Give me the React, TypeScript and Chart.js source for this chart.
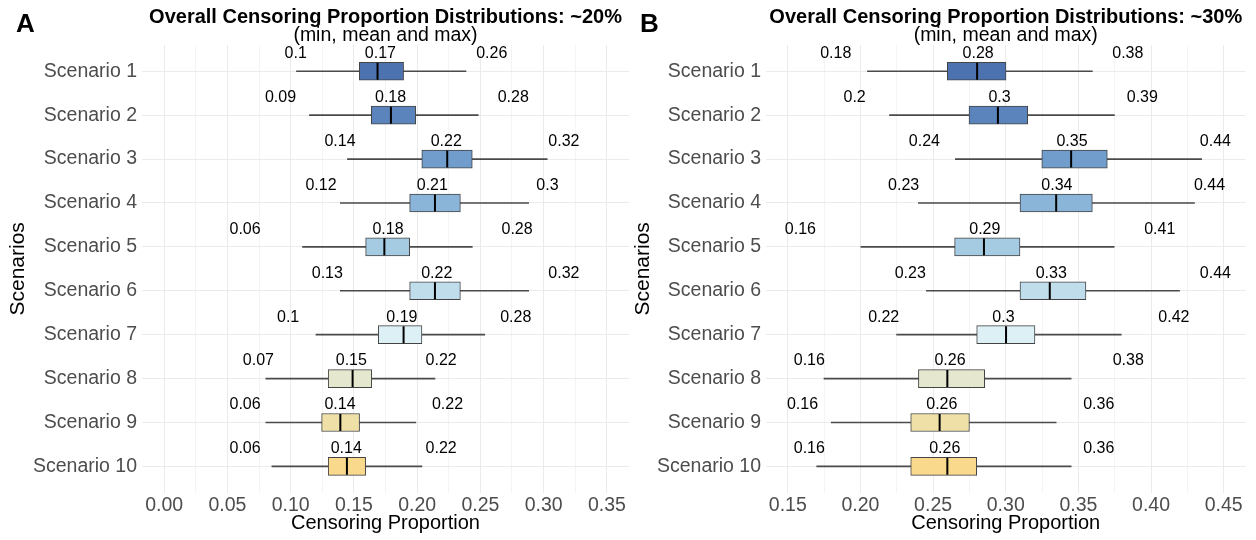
import React, { useEffect, useRef } from 'react';
import { Chart, registerables } from 'chart.js';

Chart.register(...registerables);

const FONT = '"Liberation Sans", Arial, Helvetica, sans-serif';

const scenarios = [
  'Scenario 1', 'Scenario 2', 'Scenario 3', 'Scenario 4', 'Scenario 5',
  'Scenario 6', 'Scenario 7', 'Scenario 8', 'Scenario 9', 'Scenario 10',
];

const boxColors = [
  '#4C72B0', '#5B84BD', '#709DCB', '#8AB5D9', '#A5CBE2',
  '#C0DDEC', '#DDF0F6', '#E5E7CF', '#EFE0A8', '#F9D98B',
];

// ---------- Panel A (~20%) ----------
const aWhiskerLow = [0.1046, 0.1149, 0.1449, 0.1393, 0.1094, 0.1393, 0.12, 0.0804, 0.0804, 0.0852];
const aQ1 = [0.1543, 0.1638, 0.2037, 0.1941, 0.1593, 0.1941, 0.1693, 0.1297, 0.1245, 0.1297];
const aMedian = [0.1687, 0.1793, 0.2238, 0.2141, 0.1741, 0.2141, 0.1893, 0.149, 0.1393, 0.1445];
const aQ3 = [0.1893, 0.1989, 0.2436, 0.2342, 0.1941, 0.2342, 0.2038, 0.1641, 0.1545, 0.1593];
const aWhiskerHigh = [0.2386, 0.2483, 0.3028, 0.2882, 0.2436, 0.2882, 0.2534, 0.2141, 0.199, 0.2038];
const aMin = [0.104, 0.092, 0.139, 0.124, 0.064, 0.129, 0.098, 0.0745, 0.064, 0.064];
const aMean = [0.171, 0.179, 0.223, 0.212, 0.177, 0.2155, 0.188, 0.148, 0.139, 0.144];
const aMax = [0.259, 0.276, 0.316, 0.303, 0.279, 0.316, 0.278, 0.219, 0.224, 0.219];
const aMajorTicks = [0, 0.05, 0.1, 0.15, 0.2, 0.25, 0.3, 0.35];
const aMinorTicks = [0.025, 0.075, 0.125, 0.175, 0.225, 0.275, 0.325];

// ---------- Panel B (~30%) ----------
const bWhiskerLow = [0.2048, 0.22, 0.2653, 0.2399, 0.2003, 0.2454, 0.2249, 0.1749, 0.1799, 0.1699];
const bQ1 = [0.2598, 0.2747, 0.3248, 0.3098, 0.2648, 0.3098, 0.28, 0.2399, 0.2346, 0.2346];
const bMedian = [0.2803, 0.2946, 0.345, 0.3347, 0.285, 0.3303, 0.3002, 0.2598, 0.2545, 0.2598];
const bQ3 = [0.3002, 0.3151, 0.3699, 0.3596, 0.3098, 0.3552, 0.3201, 0.2855, 0.275, 0.28];
const bWhiskerHigh = [0.3596, 0.3748, 0.4348, 0.4299, 0.3746, 0.4196, 0.3795, 0.345, 0.3347, 0.345];
const bMin = [0.183, 0.196, 0.244, 0.2297, 0.1587, 0.2343, 0.216, 0.1648, 0.1601, 0.1648];
const bMean = [0.281, 0.2957, 0.3456, 0.3352, 0.2856, 0.3313, 0.2984, 0.2616, 0.256, 0.258];
const bMax = [0.384, 0.394, 0.4443, 0.4402, 0.406, 0.4443, 0.4157, 0.3843, 0.364, 0.364];
const bMajorTicks = [0.15, 0.2, 0.25, 0.3, 0.35, 0.4, 0.45];
const bMinorTicks = [0.175, 0.225, 0.275, 0.325, 0.375, 0.425];

const fmt = (v: number) => String(Math.round(v * 100) / 100);

const labelPlugin = {
  id: 'minMeanMax',
  afterDatasetsDraw(chart: any, _args: any, opts: any) {
    const { ctx } = chart;
    const x = chart.scales.x;
    const y = chart.scales.y;
    ctx.save();
    ctx.font = `16px ${FONT}`;
    ctx.fillStyle = '#000000';
    ctx.textAlign = 'center';
    ctx.textBaseline = 'middle';
    for (let i = 0; i < opts.mins.length; i++) {
      const py = y.getPixelForValue(i) - 17.5;
      [opts.mins[i], opts.means[i], opts.maxs[i]].forEach((v: number) => {
        ctx.fillText(fmt(v), x.getPixelForValue(v), py);
      });
    }
    ctx.restore();
  },
};

type PanelCfg = {
  title: string;
  wlo: number[]; q1: number[]; med: number[]; q3: number[]; whi: number[];
  mins: number[]; means: number[]; maxs: number[];
  major: number[]; minor: number[];
  xMin: number; xMax: number;
  yAxisWidth: number; padRight: number; yTitlePad: number;
};

function makeChart(canvas: HTMLCanvasElement, c: PanelCfg) {
  const allTicks = [...c.major, ...c.minor].sort((p, q) => p - q);
  const isMajor = (v: number) => c.major.some((m) => Math.abs(m - v) < 1e-9);
  return new Chart(canvas, {
    type: 'bar',
    data: {
      datasets: [
        {
          label: 'median',
          type: 'scatter',
          data: scenarios.map((_, i) => ({ x: c.med[i], y: i })),
          pointStyle: 'line',
          rotation: 90,
          pointRadius: 8.5,
          pointHoverRadius: 8.5,
          borderColor: '#000000',
          backgroundColor: '#000000',
          borderWidth: 2,
          showLine: false,
          order: 1,
        } as any,
        {
          label: 'box',
          data: scenarios.map((_, i) => ({ x: [c.q1[i], c.q3[i]], y: i })),
          backgroundColor: boxColors,
          borderColor: '#444444',
          borderWidth: 1,
          borderSkipped: false,
          barThickness: 18,
          grouped: false,
          order: 2,
        } as any,
        {
          label: 'whisker',
          data: scenarios.map((_, i) => ({ x: [c.wlo[i], c.whi[i]], y: i })),
          backgroundColor: '#4a4a4a',
          borderWidth: 0,
          barThickness: 1,
          grouped: false,
          order: 3,
        } as any,
      ],
    },
    options: {
      indexAxis: 'y',
      responsive: false,
      animation: false,
      events: [],
      layout: { padding: { left: 0, right: c.padRight, top: 0, bottom: 0 } },
      scales: {
        x: {
          type: 'linear',
          min: c.xMin,
          max: c.xMax,
          offset: false,
          afterBuildTicks: (s: any) => {
            s.ticks = allTicks.map((v) => ({ value: v }));
          },
          afterFit: (s: any) => {
            s.height = 47.3;
          },
          ticks: {
            autoSkip: false,
            maxRotation: 0,
            padding: 1,
            color: '#4D4D4D',
            font: { family: FONT, size: 19.5 },
            callback: (v: any) => (isMajor(Number(v)) ? Number(v).toFixed(2) : ''),
          },
          grid: {
            offset: false,
            drawTicks: false,
            color: (ctx: any) => (ctx.tick && isMajor(ctx.tick.value) ? '#EBEBEB' : '#F4F4F4'),
            lineWidth: 1,
          },
          border: { display: false },
          title: {
            display: true,
            text: 'Censoring Proportion',
            color: '#000000',
            font: { family: FONT, size: 20 },
            padding: { top: 0, bottom: 5 },
          },
        },
        y: {
          type: 'linear',
          min: -0.6,
          max: scenarios.length - 0.4,
          reverse: true,
          offset: false,
          afterBuildTicks: (s: any) => {
            s.ticks = scenarios.map((_, i) => ({ value: i }));
          },
          afterFit: (s: any) => {
            s.width = c.yAxisWidth;
          },
          ticks: {
            autoSkip: false,
            padding: 5,
            color: '#4D4D4D',
            font: { family: FONT, size: 19.5 },
            callback: (v: any) => scenarios[Number(v)] ?? '',
          },
          grid: { offset: false, drawTicks: false, color: '#EBEBEB', lineWidth: 1 },
          border: { display: false },
          title: {
            display: true,
            text: 'Scenarios',
            color: '#000000',
            font: { family: FONT, size: 21 },
            padding: { top: c.yTitlePad, bottom: 0 },
          },
        },
      },
      plugins: {
        legend: { display: false },
        tooltip: { enabled: false },
        title: {
          display: true,
          fullSize: false,
          text: c.title,
          color: '#000000',
          font: { family: FONT, size: 20, weight: 'bold', lineHeight: 1 },
          padding: { top: 7, bottom: 0 },
        },
        subtitle: {
          display: true,
          fullSize: false,
          text: '(min, mean and max)',
          color: '#000000',
          font: { family: FONT, size: 19.5, lineHeight: 0.92 },
          padding: { top: 0, bottom: 0 },
        },
        minMeanMax: { mins: c.mins, means: c.means, maxs: c.maxs },
      } as any,
    },
    plugins: [labelPlugin],
  } as any);
}

export default function App() {
  const refA = useRef<HTMLCanvasElement | null>(null);
  const refB = useRef<HTMLCanvasElement | null>(null);

  useEffect(() => {
    const chA = makeChart(refA.current!, {
      title: 'Overall Censoring Proportion Distributions: ~20%',
      wlo: aWhiskerLow, q1: aQ1, med: aMedian, q3: aQ3, whi: aWhiskerHigh,
      mins: aMin, means: aMean, maxs: aMax,
      major: aMajorTicks, minor: aMinorTicks,
      xMin: -0.0175, xMax: 0.3675,
      yAxisWidth: 142, padRight: 11, yTitlePad: 6,
    });
    const chB = makeChart(refB.current!, {
      title: 'Overall Censoring Proportion Distributions: ~30%',
      wlo: bWhiskerLow, q1: bQ1, med: bMedian, q3: bQ3, whi: bWhiskerHigh,
      mins: bMin, means: bMean, maxs: bMax,
      major: bMajorTicks, minor: bMinorTicks,
      xMin: 0.135, xMax: 0.465,
      yAxisWidth: 138, padRight: 6, yTitlePad: 3,
    });
    return () => {
      chA.destroy();
      chB.destroy();
    };
  }, []);

  const tagStyle: React.CSSProperties = {
    position: 'absolute',
    top: 8,
    fontFamily: FONT,
    fontWeight: 'bold',
    fontSize: 26,
    lineHeight: '30px',
    color: '#000',
  };

  return (
    <div style={{ position: 'absolute', left: 0, top: 0, width: 1256, height: 540, background: '#fff', overflow: 'hidden' }}>
      <canvas ref={refA} width={640} height={540} style={{ position: 'absolute', left: 0, top: 0 }} />
      <canvas ref={refB} width={628} height={540} style={{ position: 'absolute', left: 628, top: 0 }} />
      <div style={{ ...tagStyle, left: 16 }}>A</div>
      <div style={{ ...tagStyle, left: 640 }}>B</div>
    </div>
  );
}
